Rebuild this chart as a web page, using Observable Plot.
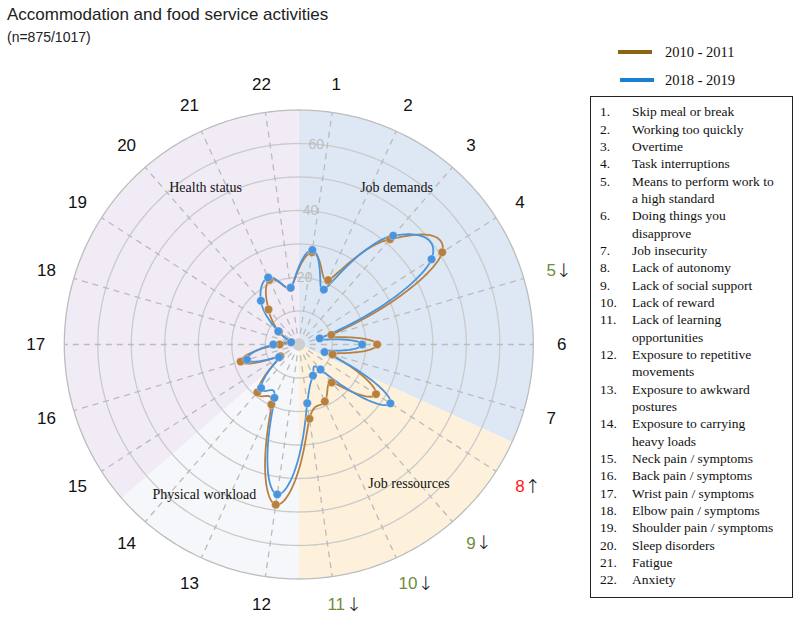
<!DOCTYPE html>
<html><head><meta charset="utf-8">
<script src="https://cdn.jsdelivr.net/npm/d3@7"></script>
<script src="https://cdn.jsdelivr.net/npm/@observablehq/plot@0.6"></script>
<style>
body{margin:0;background:#fff;}
#wrap{position:relative;width:797px;height:620px;overflow:hidden;background:#fff;}
#chart{position:absolute;left:0;top:0;}
.title{position:absolute;left:7px;top:5px;font:17px "Liberation Sans",Arial,sans-serif;color:#222;line-height:20px;white-space:nowrap;}
.sub{position:absolute;left:7px;top:29px;font:14px "Liberation Sans",Arial,sans-serif;color:#222;line-height:16px;}
.leg{position:absolute;font:14.5px "Liberation Serif","Times New Roman",serif;color:#111;line-height:16px;}
.legline{position:absolute;height:4px;}
#box{position:absolute;left:590px;top:96px;width:201px;height:500px;border:1px solid #222;font:13.5px "Liberation Serif","Times New Roman",serif;color:#111;}
#box .row{position:absolute;left:0;width:200px;height:17.33px;line-height:17.33px;white-space:nowrap;}
#box .num{position:absolute;left:9px;}
#box .txt{position:absolute;left:41px;}
</style></head><body>
<div id="wrap">
  <div id="chart"></div>
  <div class="title">Accommodation and food service activities</div>
  <div class="sub">(n=875/1017)</div>
  <div id="legend"></div>
  <div id="box"></div>
</div>
<script>
// ---- data ----
const categories = ["1","2","3","4","5","6","7","8","9","10","11","12","13","14","15","16","17","18","19","20","21","22"];
const series2010 = [27.8,21.1,41.6,50.9,10.1,23.4,10.5,27.4,15.0,18.7,22.4,48.3,19.7,18.9,6.5,18.1,5.7,2.4,7.0,13.8,21.2,17.1];
const series2018 = [28.5,18.0,43.0,47.1,6.5,18.9,8.0,32.5,9.9,10.2,17.7,45.2,17.5,17.2,7.0,16.1,7.6,2.4,7.3,17.3,22.0,17.1];
const seriesNames = ["2010 - 2011","2018 - 2019"];
const seriesColors = ["#b8803f","#4a93dd"];
const legendColors = ["#8c6512","#1b7fd2"];
const ringValues = [10,20,30,40,50,60,70];
const ringLabels = [20,40,60];
const changeCats = ["5","8","9","10","11"];
const changeArrows = ["↓","↑","↓","↓","↓"];
const changeColors = ["#6f8d3c","#ff1a1a","#6f8d3c","#6f8d3c","#6f8d3c"];
const sectorNames = ["Job demands","Job ressources","Physical workload","Health status"];
const sectorFirst = [1,8,12,15];
const sectorLast = [7,11,14,22];
const sectorColors = ["#dde8f4","#fdf1dc","#f6f7fa","#f1ebf6"];
const sectorLabelAngle = [31.9,141.6,-147.8,-30.7];
const sectorLabelRadius = [55.2,52.95,52.9,54.5];
const itemLines = [
  ["Skip meal or break"],["Working too quickly"],["Overtime"],["Task interruptions"],
  ["Means to perform work to","a high standard"],["Doing things you","disapprove"],
  ["Job insecurity"],["Lack of autonomy"],["Lack of social support"],["Lack of reward"],
  ["Lack of learning","opportunities"],["Exposure to repetitive","movements"],
  ["Exposure to awkward","postures"],["Exposure to carrying","heavy loads"],
  ["Neck pain / symptoms"],["Back pain / symptoms"],["Wrist pain / symptoms"],
  ["Elbow pain / symptoms"],["Shoulder pain / symptoms"],["Sleep disorders"],["Fatigue"],["Anxiety"]
];

// ---- geometry helpers ----
const W = 797, H = 620, cx = 298.3, cy = 344, k = 3.35;
const step = 360 / categories.length;
const rad = Math.PI / 180;
const catAngle = i => (i + 0.5) * step;
const PX = (a, r) => r * Math.sin(a * rad);
const PY = (a, r) => r * Math.cos(a * rad);
const rMax = ringValues[ringValues.length - 1];
const labelR = 78.5;

// closed spline interpolated in polar (angle, radius) space around the chart centre
const CR = (p0, p1, p2, p3, t) => 0.5 * (2 * p1 + (-p0 + p2) * t + (2 * p0 - 5 * p1 + 4 * p2 - p3) * t * t + (-p0 + 3 * p1 - 3 * p2 + p3) * t * t * t);
function polarCurve(context) {
  let pts;
  return {
    areaStart() {}, areaEnd() {},
    lineStart() { pts = []; },
    point(x, y) { pts.push([+x, +y]); },
    lineEnd() {
      const n = pts.length;
      if (!n) return;
      const P = pts.map(([x, y]) => [Math.atan2(x - cx, cy - y), Math.hypot(x - cx, y - cy)]);
      for (let i = 1; i < n; i++) while (P[i][0] <= P[i - 1][0]) P[i][0] += 2 * Math.PI;
      const get = j => { const m = ((j % n) + n) % n, w = Math.floor(j / n); return [P[m][0] + w * 2 * Math.PI, P[m][1]]; };
      const S = 30;
      for (let i = 0; i < n; i++) {
        const p0 = get(i - 1), p1 = get(i), p2 = get(i + 1), p3 = get(i + 2);
        for (let s = (i === 0 ? 0 : 1); s <= S; s++) {
          const t = s / S;
          const a = p1[0] + (p2[0] - p1[0]) * t;
          const r = Math.max(0, CR(p0[1], p1[1], p2[1], p3[1], t));
          const x = cx + r * Math.sin(a), y = cy - r * Math.cos(a);
          if (i === 0 && s === 0) context.moveTo(x, y); else context.lineTo(x, y);
        }
      }
      context.closePath();
    }
  };
}

const rows = [];
[series2010, series2018].forEach((s, si) => {
  s.forEach((v, i) => rows.push({series: seriesNames[si], color: seriesColors[si], cat: categories[i], a: catAngle(i), v}));
});

const sectorPolys = sectorNames.map((n, j) => {
  const a0 = (sectorFirst[j] - 1) * step, a1 = sectorLast[j] * step;
  const n2 = Math.ceil(a1 - a0);
  const pts = [{x: 0, y: 0}];
  d3.range(n2 + 1).forEach(t => { const a = a0 + (a1 - a0) * t / n2; pts.push({x: PX(a, rMax), y: PY(a, rMax)}); });
  return pts;
});

const ringPts = ringValues.flatMap(r => d3.range(0, 360, 1).map(a => ({ring: r, x: PX(a, r), y: PY(a, r)})));

const catColor = d => { const j = changeCats.indexOf(d); return j >= 0 ? changeColors[j] : "#111"; };
const labelFont = "Liberation Sans, Arial, sans-serif";
const serif = "Liberation Serif, Times New Roman, serif";

const chart = Plot.plot({
  width: W, height: H, margin: 0,
  x: {domain: [-cx / k, (W - cx) / k], range: [0, W], axis: null},
  y: {domain: [-(H - cy) / k, cy / k], range: [H, 0], axis: null},
  color: {type: "identity"},
  style: {background: "transparent", overflow: "visible"},
  marks: [
    ...sectorPolys.map((p, j) => Plot.line(p, {x: "x", y: "y", fill: sectorColors[j], stroke: "none", curve: "linear-closed"})),
    Plot.line(ringPts, {x: "x", y: "y", z: "ring", stroke: d => d.ring === rMax ? "#bdbdbd" : "#cacaca", strokeWidth: 1.3, curve: "linear-closed"}),
    Plot.link(categories, {x1: () => 0, y1: () => 0, x2: (d, i) => PX(catAngle(i), rMax), y2: (d, i) => PY(catAngle(i), rMax), stroke: "#bbbbbb", strokeWidth: 1.3, strokeDasharray: "6,5"}),
    Plot.text(ringLabels, {x: r => PX(5, r), y: r => PY(5, r), text: d => String(d), fill: "#bdbdbd", fontSize: 14, fontFamily: labelFont}),
    Plot.dot([0], {x: () => 0, y: () => 0, r: 6, fill: "#cfcfcf"}),
    Plot.text(sectorNames, {x: (d, i) => PX(sectorLabelAngle[i], sectorLabelRadius[i]), y: (d, i) => PY(sectorLabelAngle[i], sectorLabelRadius[i]), text: d => d, fill: "#111", fontSize: 14, fontFamily: serif}),
    Plot.line(rows, {x: d => PX(d.a, d.v), y: d => PY(d.a, d.v), z: "series", stroke: "color", strokeWidth: 1.8, curve: polarCurve}),
    Plot.dot(rows, {x: d => PX(d.a, d.v), y: d => PY(d.a, d.v), fill: "color", r: 4.2, stroke: "white", strokeWidth: 0.6, strokeOpacity: 0.5}),
    Plot.text(categories, {x: (d, i) => PX(catAngle(i), labelR), y: (d, i) => PY(catAngle(i), labelR), text: d => d, fill: catColor, fontSize: 17, fontFamily: labelFont}),
    Plot.text(changeCats.filter(c => c.length === 1), {x: d => PX(catAngle(categories.indexOf(d)), labelR), y: d => PY(catAngle(categories.indexOf(d)), labelR), text: d => changeArrows[changeCats.indexOf(d)], textAnchor: "start", dx: 5, fill: "#111", fontSize: 19, fontWeight: 200, fontFamily: "DejaVu Sans, sans-serif"}),
    Plot.text(changeCats.filter(c => c.length === 2), {x: d => PX(catAngle(categories.indexOf(d)), labelR), y: d => PY(catAngle(categories.indexOf(d)), labelR), text: d => changeArrows[changeCats.indexOf(d)], textAnchor: "start", dx: 10, fill: "#111", fontSize: 19, fontWeight: 200, fontFamily: "DejaVu Sans, sans-serif"})
  ]
});
document.getElementById("chart").appendChild(chart);

// ---- legend ----
const leg = document.getElementById("legend");
seriesNames.forEach((n, i) => {
  const yy = 50 + i * 28;
  const ln = document.createElement("div");
  ln.className = "legline";
  ln.style.cssText = `left:${618 + i * 2}px;top:${yy}px;width:34px;background:${legendColors[i]}`;
  leg.appendChild(ln);
  const t = document.createElement("div");
  t.className = "leg";
  t.style.left = "665px"; t.style.top = (yy - 6) + "px";
  t.textContent = n;
  leg.appendChild(t);
});

// ---- item box ----
const box = document.getElementById("box");
let line = 0;
itemLines.forEach((parts, i) => {
  parts.forEach((p, pi) => {
    const r = document.createElement("div");
    r.className = "row";
    r.style.top = (6.3 + line * 17.33) + "px";
    if (pi === 0) { const nspan = document.createElement("span"); nspan.className = "num"; nspan.textContent = (i + 1) + "."; r.appendChild(nspan); }
    const tspan = document.createElement("span"); tspan.className = "txt"; tspan.textContent = p; r.appendChild(tspan);
    box.appendChild(r);
    line++;
  });
});
</script>
</body></html>
